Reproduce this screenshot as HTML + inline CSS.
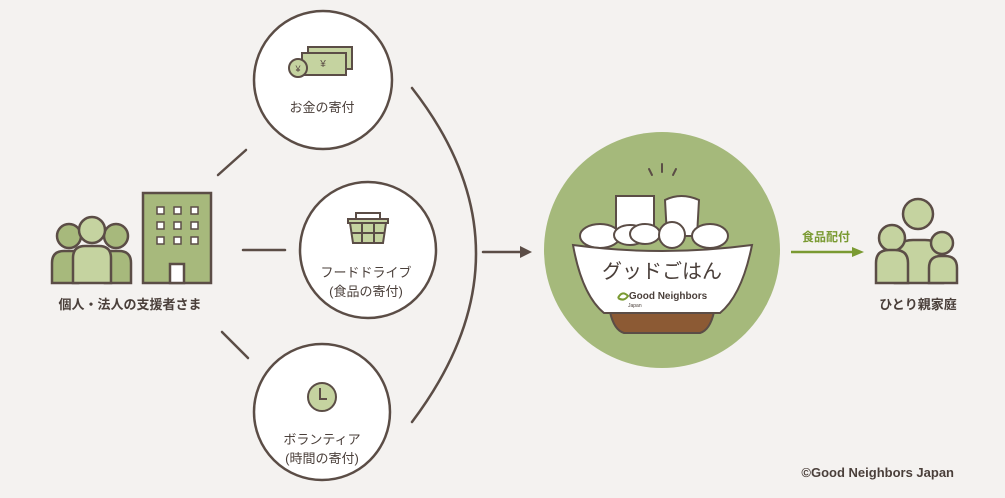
<!DOCTYPE html>
<html><head><meta charset="utf-8"><style>
html,body{margin:0;padding:0;background:#f4f2f0;}
svg{display:block}
text{font-family:"Liberation Sans","Noto Sans CJK JP",sans-serif;}
</style></head><body>
<svg width="1005" height="498" viewBox="0 0 1005 498" xmlns="http://www.w3.org/2000/svg">
<rect width="1005" height="498" fill="#f4f2f0"/>
<g stroke="#5b4d46" stroke-width="2.5" fill="none" stroke-linecap="round">
<line x1="218" y1="175" x2="246" y2="150"/>
<line x1="243" y1="250" x2="285" y2="250"/>
<line x1="222" y1="332" x2="248" y2="358"/>
<path d="M412 88 Q540 252 412 422"/>
<line x1="483" y1="252" x2="522" y2="252"/>
</g>
<polygon points="532,252 520,246 520,258" fill="#5b4d46"/>
<g fill="#fff" stroke="#5b4d46" stroke-width="2.5">
<circle cx="323" cy="80" r="69"/>
<circle cx="368" cy="250" r="68"/>
<circle cx="322" cy="412" r="68"/>
</g>
<g stroke="#5b4d46" stroke-width="2" fill="#c5d3a0">
<rect x="308" y="47" width="44" height="22"/>
<rect x="302" y="53" width="44" height="22"/>
<circle cx="298" cy="68" r="9"/>
</g>
<text x="323" y="67" font-size="10" fill="#5b4d46" text-anchor="middle">¥</text>
<text x="298" y="72" font-size="9" fill="#5b4d46" text-anchor="middle">¥</text>
<text x="322" y="112" font-size="13" fill="#4a3f3a" text-anchor="middle">お金の寄付</text>
<g stroke="#5b4d46" stroke-width="2" fill="#c5d3a0">
<path d="M356 219 v-6 h24 v6" fill="none"/>
<rect x="348" y="219" width="40" height="4"/>
<path d="M350 223 h36 l-3 20 h-30 z"/>
<line x1="362" y1="223" x2="362" y2="243"/><line x1="374" y1="223" x2="374" y2="243"/>
<line x1="351" y1="233" x2="385" y2="233"/>
</g>
<text x="366" y="277" font-size="13" fill="#4a3f3a" text-anchor="middle">フードドライブ</text>
<text x="366" y="296" font-size="13" fill="#4a3f3a" text-anchor="middle">(食品の寄付)</text>
<circle cx="322" cy="397" r="14" fill="#c5d3a0" stroke="#5b4d46" stroke-width="2"/>
<path d="M320 388 v11 h7" stroke="#5b4d46" stroke-width="2" fill="none"/>
<text x="322" y="444" font-size="13" fill="#4a3f3a" text-anchor="middle">ボランティア</text>
<text x="322" y="463" font-size="13" fill="#4a3f3a" text-anchor="middle">(時間の寄付)</text>
<g stroke="#5b4d46" stroke-width="2.5">
<circle cx="69" cy="236" r="12" fill="#a7b97c"/>
<circle cx="116" cy="236" r="12" fill="#a7b97c"/>
<path d="M52 283 v-20 q0-12 12-12 h14 v32 z" fill="#a7b97c"/>
<path d="M131 283 v-20 q0-12 -12-12 h-14 v32 z" fill="#a7b97c"/>
<circle cx="92" cy="230" r="13" fill="#c5d3a0"/>
<path d="M73 283 v-25 q0-12 12-12 h14 q12 0 12 12 v25 z" fill="#c5d3a0"/>
<rect x="143" y="193" width="68" height="90" fill="#a7b97c"/>
<rect x="170" y="264" width="14" height="19" fill="#fff"/>
</g>
<g fill="#fff" stroke="#5b4d46" stroke-width="1.5">
<rect x="157" y="207" width="7" height="7"/><rect x="174" y="207" width="7" height="7"/><rect x="191" y="207" width="7" height="7"/>
<rect x="157" y="222" width="7" height="7"/><rect x="174" y="222" width="7" height="7"/><rect x="191" y="222" width="7" height="7"/>
<rect x="157" y="237" width="7" height="7"/><rect x="174" y="237" width="7" height="7"/><rect x="191" y="237" width="7" height="7"/>
</g>
<text x="130" y="309" font-size="13" font-weight="bold" fill="#4a3f3a" text-anchor="middle">個人・法人の支援者さま</text>
<circle cx="662" cy="250" r="118" fill="#a5b97b"/>
<g stroke="#5b4d46" stroke-width="2" fill="#fff" stroke-linecap="round">
<line x1="649" y1="169" x2="652" y2="175"/><line x1="662" y1="164" x2="662" y2="172"/><line x1="676" y1="169" x2="673" y2="175"/>
<rect x="616" y="196" width="38" height="40"/>
<path d="M665 200 q16-8 34 0 l-2 36 h-30 z"/>
<ellipse cx="600" cy="236" rx="20" ry="12"/>
<ellipse cx="630" cy="235" rx="16" ry="10"/>
<ellipse cx="645" cy="234" rx="15" ry="10"/>
<circle cx="672" cy="235" r="13"/>
<ellipse cx="710" cy="236" rx="18" ry="12"/>
<path d="M610 312 h104 q-4 18 -14 21 h-76 q-10 -3 -14 -21 z" fill="#8c5a34"/>
<path d="M573 245 q89 12 179 0 q-10 50 -32 68 h-116 q-22 -18 -31 -68 z"/>
</g>
<text x="662" y="278" font-size="20" fill="#4a3f3a" text-anchor="middle">グッドごはん</text>
<text x="668" y="299" font-size="10" font-weight="bold" fill="#4a3f3a" text-anchor="middle">Good Neighbors</text>
<text x="628" y="307" font-size="5" fill="#4a3f3a">Japan</text>
<path d="M618 298 q4-8 10-2 q-4 6 -10 2" stroke="#7a9a32" stroke-width="2" fill="none"/>
<text x="826" y="241" font-size="12" font-weight="bold" fill="#7a9a32" text-anchor="middle">食品配付</text>
<line x1="791" y1="252" x2="855" y2="252" stroke="#7a9a32" stroke-width="2.5"/>
<polygon points="864,252 852,247 852,257" fill="#7a9a32"/>
<g stroke="#5b4d46" stroke-width="2.5" fill="#c5d3a0">
<circle cx="918" cy="214" r="15"/>
<path d="M895 283 v-25 q0-18 18-18 h12 q18 0 18 18 v25 z"/>
<circle cx="892" cy="238" r="13"/>
<path d="M876 283 v-20 q0-13 13-13 h6 q13 0 13 13 v20 z"/>
<circle cx="942" cy="243" r="11"/>
<path d="M929 283 v-15 q0-12 12-12 h4 q12 0 12 12 v15 z"/>
</g>
<text x="918" y="309" font-size="13" font-weight="bold" fill="#4a3f3a" text-anchor="middle">ひとり親家庭</text>
<text x="954" y="477" font-size="13" font-weight="bold" fill="#4a3f3a" text-anchor="end">©Good Neighbors Japan</text>
</svg>
</body></html>
